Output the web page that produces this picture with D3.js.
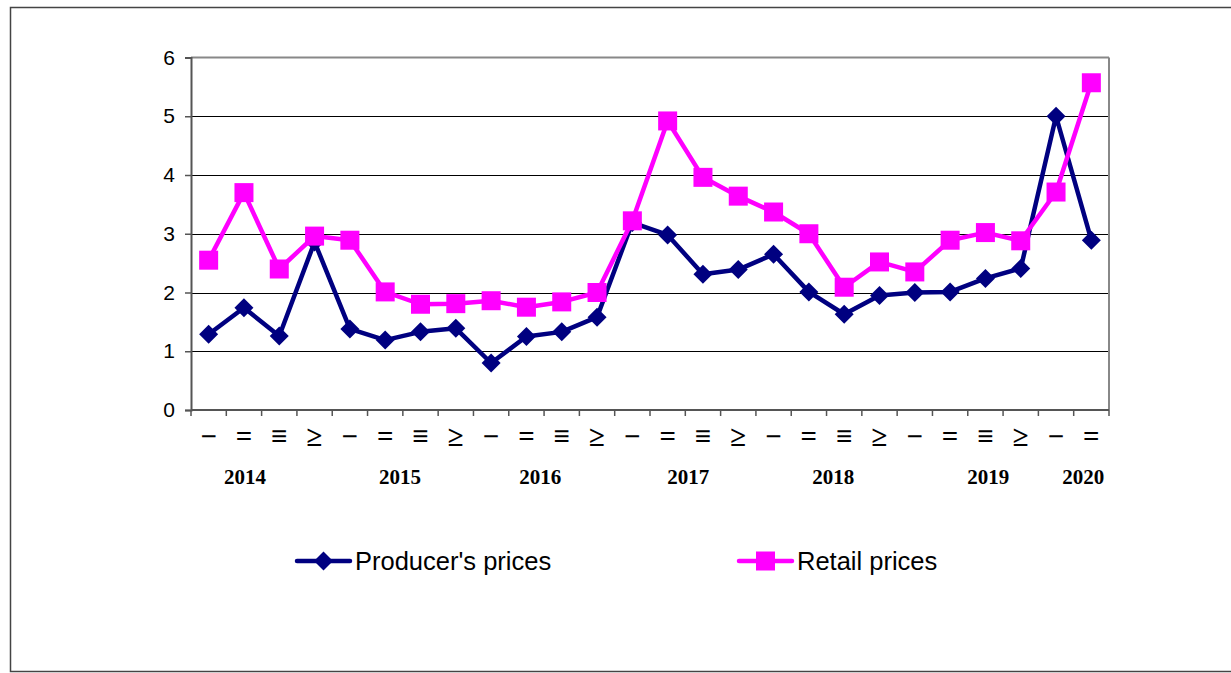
<!DOCTYPE html>
<html>
<head>
<meta charset="utf-8">
<script src="https://cdn.jsdelivr.net/npm/d3@7"></script>
<style>
  html, body { margin: 0; padding: 0; background: #fff; }
  svg { display: block; }
</style>
</head>
<body>
<svg id="chart" width="1231" height="673"></svg>
<script>
// ---- data ----
const quarters = ["−","=","≡","≥","−","=","≡","≥","−","=","≡","≥","−","=","≡","≥","−","=","≡","≥","−","=","≡","≥","−","="];
const years = ["2014","2015","2016","2017","2018","2019","2020"];
const producerPrices = [1.29,1.74,1.26,2.86,1.38,1.19,1.33,1.39,0.80,1.25,1.33,1.58,3.19,2.98,2.31,2.39,2.65,2.01,1.63,1.95,2.00,2.01,2.24,2.41,5.00,2.89];
const retailPrices   = [2.55,3.70,2.40,2.96,2.89,2.01,1.80,1.81,1.86,1.75,1.84,2.00,3.22,4.92,3.96,3.64,3.37,3.00,2.09,2.52,2.35,2.89,3.02,2.88,3.71,5.57];
const seriesNames = ["Producer's prices","Retail prices"];
const yTicks = [0,1,2,3,4,5,6];
// layout: where each year label is centred, in category units
const yearLabelAt = [1.03, 5.42, 9.39, 13.58, 17.69, 22.08, 24.77];

// ---- layout ----
const svg = d3.select("#chart");
const L = 191, R = 1109, T = 57.5, B = 410;
const navy = "#000080", magenta = "#FF00FF";

svg.append("rect").attr("x",10.5).attr("y",7.5).attr("width",1240).attr("height",664)
  .attr("fill","none").attr("stroke","#444").attr("stroke-width",1.5);

const x = d3.scaleBand().domain(d3.range(quarters.length)).range([L,R]).padding(0);
const xc = i => x(i) + x.bandwidth()/2;
const xLin = d3.scaleLinear().domain([0, quarters.length]).range([L,R]);
const y = d3.scaleLinear().domain([0,6]).range([B,T]);

// gridlines
svg.append("g").selectAll("line").data(yTicks.filter(t => t>0 && t<6)).join("line")
  .attr("x1",L).attr("x2",R).attr("y1",d=>Math.round(y(d))+0.5).attr("y2",d=>Math.round(y(d))+0.5)
  .attr("stroke","#000").attr("stroke-width",1.2);
// top + right border
svg.append("line").attr("x1",L).attr("x2",R).attr("y1",y(6)).attr("y2",y(6)).attr("stroke","#888").attr("stroke-width",2);
svg.append("line").attr("x1",R).attr("x2",R).attr("y1",y(6)).attr("y2",B).attr("stroke","#888").attr("stroke-width",2);

// y axis
const yAxis = d3.axisLeft(y).tickValues(yTicks).tickSize(6).tickPadding(10).tickFormat(d3.format("d"));
const gy = svg.append("g").attr("transform",`translate(${L},0)`).call(yAxis);
gy.select(".domain").attr("stroke","#555").attr("stroke-width",2);
gy.selectAll(".tick line").attr("stroke","#555").attr("stroke-width",1.5);
gy.selectAll(".tick text").attr("font-family","Liberation Sans, Arial, sans-serif").attr("font-size",21).attr("fill","#000");

// x axis (ticks at category boundaries)
const gx = svg.append("g").attr("transform",`translate(0,${B})`);
gx.append("line").attr("x1",L).attr("x2",R).attr("stroke","#555").attr("stroke-width",2);
gx.selectAll("line.tk").data(d3.range(quarters.length+1)).join("line").attr("class","tk")
  .attr("x1",d=>xLin(d)).attr("x2",d=>xLin(d)).attr("y1",0).attr("y2",6)
  .attr("stroke","#555").attr("stroke-width",1.5);
gx.selectAll("text.q").data(quarters).join("text").attr("class","q")
  .attr("x",(d,i)=>xc(i)).attr("y",36).attr("text-anchor","middle")
  .attr("font-family","Liberation Serif, Times New Roman, serif").attr("font-weight","bold").attr("font-size",29).attr("fill","#000")
  .text(d=>d);
gx.selectAll("text.yr").data(years).join("text").attr("class","yr")
  .attr("x",(d,i)=>xLin(yearLabelAt[i]+0.5)).attr("y",74).attr("text-anchor","middle")
  .attr("font-family","Liberation Serif, Times New Roman, serif").attr("font-weight","bold").attr("font-size",21).attr("fill","#000")
  .text(d=>d);

// lines
const line = d3.line().x((d,i)=>xc(i)).y(d=>y(d));
svg.append("path").datum(producerPrices).attr("d",line).attr("fill","none").attr("stroke",navy).attr("stroke-width",4.5).attr("stroke-linejoin","round");
svg.append("path").datum(retailPrices).attr("d",line).attr("fill","none").attr("stroke",magenta).attr("stroke-width",4.5).attr("stroke-linejoin","round");

const diamond = (cx,cy,r) => `M${cx},${cy-r}L${cx+r},${cy}L${cx},${cy+r}L${cx-r},${cy}Z`;
svg.append("g").selectAll("path").data(producerPrices).join("path")
  .attr("d",(d,i)=>diamond(xc(i),y(d),9.5)).attr("fill",navy);
svg.append("g").selectAll("rect").data(retailPrices).join("rect")
  .attr("x",(d,i)=>xc(i)-9.5).attr("y",d=>y(d)-9.5).attr("width",19).attr("height",19).attr("fill",magenta);

// legend
const lg = svg.append("g");
const legendItems = [
  {name:seriesNames[0], color:navy, x0:297, shape:"diamond"},
  {name:seriesNames[1], color:magenta, x0:739, shape:"square"}
];
const ly = 561;
legendItems.forEach(it => {
  lg.append("line").attr("x1",it.x0).attr("x2",it.x0+53).attr("y1",ly).attr("y2",ly)
    .attr("stroke",it.color).attr("stroke-width",4.5).attr("stroke-linecap","round");
  const cx = it.x0+26.5;
  if (it.shape==="diamond") lg.append("path").attr("d",diamond(cx,ly,9.5)).attr("fill",it.color);
  else lg.append("rect").attr("x",cx-9.5).attr("y",ly-9.5).attr("width",19).attr("height",19).attr("fill",it.color);
  lg.append("text").attr("x",it.x0+58).attr("y",ly+9)
    .attr("font-family","Liberation Sans, Arial, sans-serif").attr("font-size",25.5).attr("fill","#000")
    .text(it.name);
});
</script>
</body>
</html>
